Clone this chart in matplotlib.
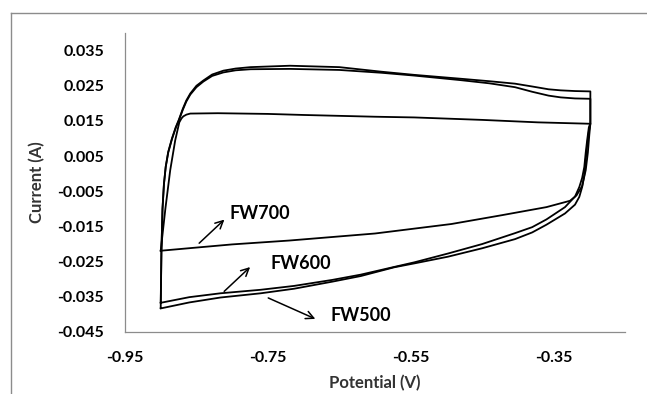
import matplotlib
matplotlib.use("Agg")
import matplotlib.pyplot as plt
from matplotlib.lines import Line2D

# forward scan (bottom-left -> top-right), then reverse scan back to start
fw500_v = [-0.900, -0.899, -0.8975, -0.8955, -0.8930, -0.8895, -0.8843, -0.8790, -0.8747,
           -0.869, -0.8642, -0.8586, -0.850, -0.8403, -0.828, -0.8122, -0.795, -0.7742,
           -0.719, -0.650, -0.591, -0.545, -0.480, -0.440, -0.404, -0.380, -0.357, -0.340,
           -0.320, -0.2985,
           -0.2985, -0.2995, -0.3006, -0.303, -0.305, -0.307, -0.310, -0.314, -0.320,
           -0.334, -0.360, -0.380, -0.404, -0.450, -0.498, -0.545, -0.573, -0.620, -0.660,
           -0.7133, -0.760, -0.8164, -0.860, -0.900]
fw500_i = [-0.0382, -0.0220, -0.0100, -0.0030, 0.0020, 0.0062, 0.0100, 0.0132, 0.0153,
           0.0185, 0.0208, 0.0228, 0.0250, 0.0265, 0.0282, 0.0293, 0.0299, 0.0303,
           0.0307, 0.0303, 0.0290, 0.0281, 0.0270, 0.0263, 0.0256, 0.0248, 0.0240, 0.0237,
           0.0235, 0.0234,
           0.0142, 0.0130, 0.0120, 0.0080, 0.0040, -0.0004, -0.0038, -0.0066, -0.0088,
           -0.0113, -0.0145, -0.0167, -0.0186, -0.0212, -0.0236, -0.0255, -0.0266, -0.0291,
           -0.0307, -0.0327, -0.0340, -0.0352, -0.0366, -0.0383]

fw600_v = [-0.900, -0.899, -0.8975, -0.8955, -0.8930, -0.8895, -0.8843, -0.8790, -0.8747,
           -0.869, -0.8642, -0.8586, -0.850, -0.8403, -0.828, -0.8122, -0.795, -0.7742,
           -0.719, -0.650, -0.591, -0.545, -0.480, -0.440, -0.404, -0.380, -0.357, -0.340,
           -0.320, -0.2985,
           -0.2985, -0.2995, -0.3006, -0.303, -0.305, -0.307, -0.310, -0.314, -0.320,
           -0.334, -0.360, -0.380, -0.404, -0.450, -0.498, -0.545, -0.573, -0.620, -0.660,
           -0.7133, -0.760, -0.8164, -0.860, -0.900]
fw600_i = [-0.0367, -0.0220, -0.0100, -0.0030, 0.0019, 0.0060, 0.0098, 0.0130, 0.0151,
           0.0182, 0.0205, 0.0225, 0.0246, 0.0262, 0.0278, 0.0288, 0.0294, 0.0297,
           0.0298, 0.0295, 0.0287, 0.0279, 0.0266, 0.0257, 0.0246, 0.0233, 0.0222, 0.0217,
           0.0214, 0.0213,
           0.0142, 0.0138, 0.0132, 0.0095, 0.0060, 0.0019, -0.0012, -0.0038, -0.0065,
           -0.0095, -0.0130, -0.0152, -0.0169, -0.0200, -0.0227, -0.0252, -0.0265, -0.0287,
           -0.0302, -0.0319, -0.0330, -0.0340, -0.0351, -0.0367]

fw700_v = [-0.900, -0.8935, -0.8867, -0.8797, -0.8740, -0.871, -0.8684, -0.864, -0.8586,
           -0.820, -0.750, -0.700, -0.600, -0.545, -0.450, -0.372, -0.2985,
           -0.300, -0.302, -0.305, -0.310, -0.318, -0.327, -0.360, -0.4226, -0.493,
           -0.600, -0.720, -0.800, -0.900]
fw700_i = [-0.0219, -0.0100, 0.0010, 0.0095, 0.0146, 0.0157, 0.0163, 0.0168, 0.0171,
           0.0172, 0.0170, 0.0167, 0.0162, 0.0160, 0.0153, 0.0146, 0.0142,
           0.0110, 0.0060, 0.0010, -0.0035, -0.0062, -0.0077, -0.0095, -0.0118, -0.0143,
           -0.0170, -0.0190, -0.0201, -0.0219]

x_ticks = [-0.95, -0.75, -0.55, -0.35]
x_labels = ["-0.95", "-0.75", "-0.55", "-0.35"]
y_ticks = [-0.045, -0.035, -0.025, -0.015, -0.005, 0.005, 0.015, 0.025, 0.035]
y_labels = ["-0.045", "-0.035", "-0.025", "-0.015", "-0.005", "0.005", "0.015", "0.025", "0.035"]

plt.rcParams['font.family'] = ['Lato', 'DejaVu Sans']

fig = plt.figure(figsize=(6.47, 3.94), dpi=100)
ax = fig.add_axes([0.1932, 0.1574, 0.7728, 0.7588])

for v, i in [(fw500_v, fw500_i), (fw600_v, fw600_i), (fw700_v, fw700_i)]:
    ax.plot(v, i, color='black', lw=1.3, solid_joinstyle='round')

ax.set_xlim(-0.95, -0.25)
ax.set_ylim(-0.045, 0.04)
ax.set_xticks(x_ticks)
ax.set_xticklabels(x_labels, fontweight='bold', fontsize=11.5)
ax.set_yticks(y_ticks)
ax.set_yticklabels(y_labels, fontweight='bold', fontsize=11.5)
ax.tick_params(length=0)
ax.tick_params(axis='x', pad=14)
ax.tick_params(axis='y', pad=15)

for s in ['top', 'right']:
    ax.spines[s].set_visible(False)
for s in ['left', 'bottom']:
    ax.spines[s].set_color('#8c8c8c')
    ax.spines[s].set_linewidth(0.9)

ax.set_xlabel('Potential (V)', fontsize=12, fontweight='bold', color='#333333')
ax.set_ylabel('Current (A)', fontsize=12, fontweight='bold', color='#333333')
ax.xaxis.set_label_coords(0.5, -0.145)
ax.yaxis.set_label_coords(-0.16, 0.5)

# annotations with arrows
arrow = dict(arrowstyle='->', color='black', lw=1.1, mutation_scale=14)
ax.annotate('', xy=(-0.808, -0.0125), xytext=(-0.849, -0.0203), arrowprops=arrow)
ax.text(-0.8037, -0.0113, 'FW700', fontsize=13, fontweight='bold', va='center', ha='left')
ax.annotate('', xy=(-0.772, -0.0260), xytext=(-0.814, -0.0340), arrowprops=arrow)
ax.text(-0.747, -0.0255, 'FW600', fontsize=13, fontweight='bold', va='center', ha='left')
ax.annotate('', xy=(-0.680, -0.0416), xytext=(-0.753, -0.0350), arrowprops=arrow)
ax.text(-0.6627, -0.0402, 'FW500', fontsize=13, fontweight='bold', va='center', ha='left')

# chart area border (partly cut off at right and bottom)
x0, y0 = 11 / 647, 1 - 13 / 394
fig.add_artist(Line2D([x0, x0], [0, y0], transform=fig.transFigure, color='#8c8c8c', lw=1))
fig.add_artist(Line2D([x0, 1], [y0, y0], transform=fig.transFigure, color='#8c8c8c', lw=1))

fig.savefig('out.png', dpi=100)
